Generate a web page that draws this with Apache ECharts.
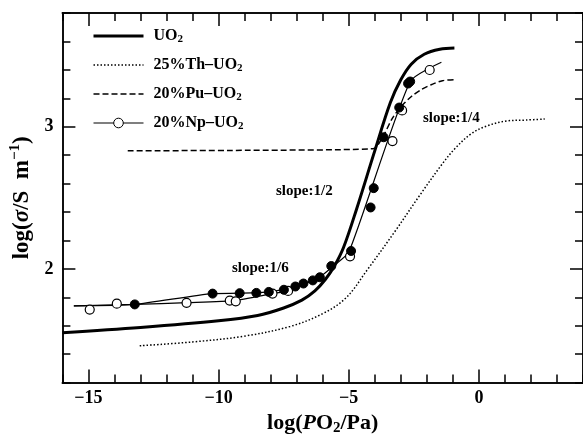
<!DOCTYPE html>
<html>
<head>
<meta charset="utf-8">
<script src="https://cdn.jsdelivr.net/npm/echarts@6/dist/echarts.min.js"></script>
<style>
  html, body { margin: 0; padding: 0; background: #fff; }
  #chart { width: 583px; height: 441px; }
</style>
</head>
<body>
<div id="chart"></div>
<script>
// x = log(PO2/Pa), y = log(sigma / S m-1)
const xMinorTicks = [-16, -15, -14, -13, -12, -11, -10, -9, -8, -7, -6, -5, -4, -3, -2, -1, 0, 1, 2, 3, 4];
const xMajorTicks = [-15, -10, -5, 0];
const yMinorTicks = [1.2, 1.4, 1.6, 1.8, 2, 2.2, 2.4, 2.6, 2.8, 3, 3.2, 3.4, 3.6, 3.8];
const yMajorTicks = [2, 3];

const uo2 = [[-16, 1.551], [-13, 1.588], [-10, 1.635], [-8.5, 1.672], [-7.5, 1.725], [-6.8, 1.78], [-6.3, 1.845],
  [-5.9, 1.925], [-5.55, 2.02], [-5.2, 2.15], [-4.7, 2.42], [-4.0, 2.83], [-3.4, 3.17], [-3.0, 3.33],
  [-2.6, 3.44], [-2.1, 3.51], [-1.5, 3.545], [-0.94, 3.554]];
const thUo2 = [[-13.03, 1.459], [-11.0, 1.486], [-9.0, 1.527], [-7.25, 1.595], [-6.0, 1.685], [-5.1, 1.797],
  [-4.3, 1.99], [-3.2, 2.27], [-2.3, 2.51], [-1.4, 2.74], [-0.9, 2.85], [-0.3, 2.95], [0.3, 3.005],
  [1.06, 3.04], [1.81, 3.047], [2.53, 3.054]];
const puUo2 = [[-13.49, 2.831], [-8.88, 2.834], [-4.08, 2.845], [-3.7, 2.926], [-3.32, 3.061], [-2.95, 3.149],
  [-2.57, 3.216], [-2.19, 3.264], [-1.81, 3.297], [-1.4, 3.324], [-0.94, 3.331]];
// Np-UO2: two fitted lines plus measured points (open / filled)
const npLineOpen = [[-15.56, 1.74], [-13.22, 1.75], [-11.2, 1.762], [-9.4, 1.776], [-7.93, 1.826], [-7.33, 1.845], [-6.38, 1.919]];
const npLineFilled = [[-15.56, 1.74], [-13.22, 1.75], [-10.24, 1.826], [-9.19, 1.829], [-8.08, 1.838], [-7.06, 1.875],
  [-6.38, 1.919], [-6.12, 1.941], [-5.59, 2.02], [-4.99, 2.12], [-2.64, 3.318], [-1.44, 3.453]];
const npOpen = [[-14.95, 1.714], [-13.91, 1.755], [-11.23, 1.761], [-9.57, 1.777], [-9.34, 1.772], [-7.93, 1.826],
  [-7.33, 1.845], [-4.95, 2.088], [-3.32, 2.899], [-2.95, 3.115], [-1.89, 3.399]];
const npFilled = [[-13.22, 1.75], [-10.23, 1.826], [-9.19, 1.829], [-8.55, 1.831], [-8.07, 1.838], [-7.49, 1.853],
  [-7.05, 1.876], [-6.74, 1.897], [-6.38, 1.919], [-6.11, 1.941], [-5.67, 2.02], [-4.91, 2.126], [-4.16, 2.432],
  [-4.04, 2.568], [-3.66, 2.926], [-3.06, 3.135], [-2.72, 3.304], [-2.64, 3.318]];

const seriesNames = ['UO2', '25%Th–UO2', '20%Pu–UO2', '20%Np–UO2'];

const FONT = 'Liberation Serif';
const X_MIN = -16, X_MAX = 4, Y_MIN = 1.2, Y_MAX = 3.8;

function fmtMinus(v) {
  return v < 0 ? '−' + (-v) : String(v);
}

function xAxisDef(pos, ticks, len, withLabel) {
  return {
    type: 'value', position: pos, min: X_MIN, max: X_MAX,
    axisLine: { show: true, onZero: false, lineStyle: { color: '#000', width: 1.5 } },
    axisTick: { show: true, inside: true, length: len, customValues: ticks, lineStyle: { color: '#000', width: 1.5 } },
    axisLabel: withLabel ? {
      show: true, customValues: ticks, margin: 7, color: '#000',
      fontFamily: FONT, fontWeight: 'bold', fontSize: 18, formatter: fmtMinus
    } : { show: false },
    splitLine: { show: false }
  };
}

function yAxisDef(pos, ticks, len, withLabel) {
  return {
    type: 'value', position: pos, min: Y_MIN, max: Y_MAX,
    axisLine: { show: true, onZero: false, lineStyle: { color: '#000', width: 1.5 } },
    axisTick: { show: true, inside: true, length: len, customValues: ticks, lineStyle: { color: '#000', width: 1.5 } },
    axisLabel: withLabel ? {
      show: true, customValues: ticks, margin: 9, color: '#000',
      fontFamily: FONT, fontWeight: 'bold', fontSize: 18
    } : { show: false },
    splitLine: { show: false }
  };
}

let myChart = echarts.init(document.getElementById('chart'));

const xMain = xAxisDef('bottom', xMajorTicks, 13, true);
xMain.name = '{a|log(}{i|P}{a|O}{s|2}{a|/Pa)}';
xMain.nameLocation = 'middle';
xMain.nameGap = 25;
xMain.nameTextStyle = {
  rich: {
    a: { fontFamily: FONT, fontWeight: 'bold', fontSize: 22, color: '#000' },
    i: { fontFamily: FONT, fontWeight: 'bold', fontStyle: 'italic', fontSize: 22, color: '#000' },
    s: { fontFamily: FONT, fontWeight: 'bold', fontSize: 15, color: '#000', padding: [10, 0, 0, 0] }
  }
};

const yMain = yAxisDef('left', yMajorTicks, 13, true);
yMain.name = '{a|log(}{i|σ}{a|/S  m}{p|−1}{a|)}';
yMain.nameLocation = 'middle';
yMain.nameRotate = 90;
yMain.nameGap = 22;
yMain.nameTextStyle = {
  rich: {
    a: { fontFamily: FONT, fontWeight: 'bold', fontSize: 23, color: '#000' },
    i: { fontFamily: FONT, fontWeight: 'bold', fontStyle: 'italic', fontSize: 23, color: '#000' },
    p: { fontFamily: FONT, fontWeight: 'bold', fontSize: 15, color: '#000', padding: [0, 0, 13, 0] }
  }
};

const legendRich = {
  t: { fontFamily: FONT, fontWeight: 'bold', fontSize: 16, color: '#000' },
  s: { fontFamily: FONT, fontWeight: 'bold', fontSize: 11, color: '#000', padding: [7, 0, 0, 0] }
};

const slopeText = { fontFamily: FONT, fontWeight: 'bold', fontSize: 15, fill: '#000' };

myChart.setOption({
  backgroundColor: '#fff',
  animation: false,
  grid: { left: 62, right: -8, top: 13, bottom: 48 },
  xAxis: [
    xMain,
    xAxisDef('bottom', xMinorTicks, 8, false),
    xAxisDef('top', xMajorTicks, 13, false),
    xAxisDef('top', xMinorTicks, 8, false)
  ],
  yAxis: [
    yMain,
    yAxisDef('left', yMinorTicks, 8, false),
    yAxisDef('right', yMajorTicks, 13, false),
    yAxisDef('right', yMinorTicks, 8, false)
  ],
  legend: {
    orient: 'vertical',
    left: 92, top: 28, padding: 0,
    itemWidth: 50, itemHeight: 12, itemGap: 12,
    lineStyle: { width: 'inherit', type: 'inherit' },
    textStyle: { padding: [0, 0, 0, 5], rich: legendRich },
    formatter: function (name) {
      return '{t|' + name.slice(0, -1) + '}{s|2}';
    },
    data: [
      { name: seriesNames[0], itemStyle: { opacity: 0 } },
      { name: seriesNames[1], itemStyle: { opacity: 0 } },
      { name: seriesNames[2], itemStyle: { opacity: 0 } },
      { name: seriesNames[3], itemStyle: { color: '#fff', borderColor: '#000', borderWidth: 1 } }
    ]
  },
  graphic: [
    { type: 'text', left: 232, top: 261, style: Object.assign({ text: 'slope:1/6' }, slopeText) },
    { type: 'text', left: 276, top: 184, style: Object.assign({ text: 'slope:1/2' }, slopeText) },
    { type: 'text', left: 423, top: 111, style: Object.assign({ text: 'slope:1/4' }, slopeText) }
  ],
  series: [
    {
      name: seriesNames[0], type: 'line', data: uo2, symbol: 'none', smooth: 0.35,
      lineStyle: { color: '#000', width: 3 }, itemStyle: { color: '#000' }, z: 3
    },
    {
      name: seriesNames[1], type: 'line', data: thUo2, symbol: 'none', smooth: 0.35,
      lineStyle: { color: '#000', width: 1.5, type: [1.5, 2] }, itemStyle: { color: '#000' }
    },
    {
      name: seriesNames[2], type: 'line', data: puUo2, symbol: 'none', smooth: 0.3,
      lineStyle: { color: '#000', width: 1.5, type: [6, 3] }, itemStyle: { color: '#000' }
    },
    {
      name: seriesNames[3], type: 'line', data: npLineOpen, symbol: 'circle', showSymbol: false, smooth: 0.2,
      lineStyle: { color: '#000', width: 1.2 }, itemStyle: { color: '#fff', borderColor: '#000', borderWidth: 1 }
    },
    {
      name: 'np-filled-line', type: 'line', data: npLineFilled, symbol: 'none', smooth: 0.2,
      lineStyle: { color: '#000', width: 1.2 }, itemStyle: { color: '#000' }
    },
    {
      name: 'np-open', type: 'scatter', data: npOpen, symbol: 'circle', symbolSize: 9,
      itemStyle: { color: '#fff', borderColor: '#000', borderWidth: 1.2, opacity: 1 }, z: 4
    },
    {
      name: 'np-filled', type: 'scatter', data: npFilled, symbol: 'circle', symbolSize: 9,
      itemStyle: { color: '#000', borderColor: '#000', borderWidth: 1, opacity: 1 }, z: 4
    }
  ]
});
</script>
</body>
</html>
